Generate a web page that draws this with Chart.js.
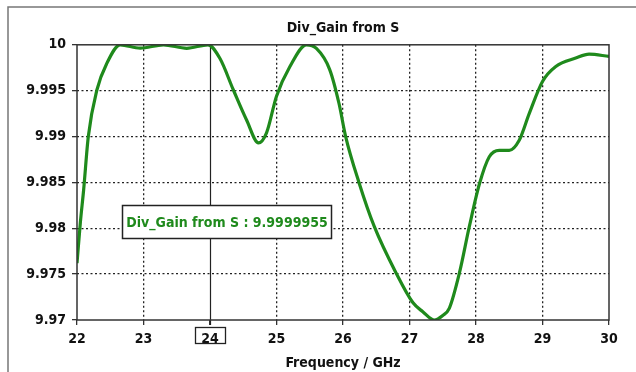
<!DOCTYPE html>
<html><head><meta charset="utf-8">
<script src="https://cdn.jsdelivr.net/npm/chart.js@4/dist/chart.umd.min.js"></script>
<style>html,body{margin:0;padding:0;background:#fff}#wrap{width:636px;height:372px}</style>
</head><body><div id="wrap"><canvas id="c" width="636" height="372"></canvas></div>
<script>
const freqGHz = [22, 22.05, 22.1, 22.17, 22.3, 22.45, 22.65, 22.95, 23.3, 23.65, 23.97, 24.15, 24.35, 24.55, 24.73, 24.85, 25.0, 25.2, 25.45, 25.6, 25.8, 25.94, 26.04, 26.24, 26.47, 26.8, 27.05, 27.2, 27.37, 27.5, 27.6, 27.75, 27.9, 28.05, 28.2, 28.35, 28.5, 28.65, 28.8, 29.0, 29.2, 29.5, 29.7, 30.0];
const divGain = [9.9762, 9.9806, 9.9842, 9.9900, 9.9951, 9.9980, 10.0000, 9.99964, 10.0000, 9.99962, 10.0000, 9.9985, 9.9951, 9.9918, 9.9893, 9.9904, 9.9944, 9.9976, 10.0000, 9.9996, 9.9973, 9.9936, 9.9900, 9.9850, 9.9802, 9.9751, 9.9719, 9.9709, 9.9700, 9.9705, 9.9713, 9.9751, 9.9802, 9.9848, 9.9878, 9.9885, 9.9885, 9.9896, 9.9925, 9.9960, 9.99763, 9.99855, 9.99898, 9.99873];
const xTickLabels = ['22','23','24','25','26','27','28','29','30'];
const yTickLabels = ['9.97','9.975','9.98','9.985','9.99','9.995','10'];
const seriesName = 'Div_Gain from S';
const markerX = 24;
const markerValue = '9.9999955';

const FONT = "'DejaVu Sans Condensed', 'Liberation Sans', sans-serif";
const GREEN = '#1f8a1c';

const decor = {
  id: 'decor',
  beforeDraw(chart) {
    const ctx = chart.ctx;
    ctx.save();
    ctx.fillStyle = '#fff';
    ctx.fillRect(0, 0, chart.width, chart.height);
    ctx.strokeStyle = '#777';
    ctx.lineWidth = 1.5;
    ctx.beginPath();
    ctx.moveTo(8, chart.height);
    ctx.lineTo(8, 7);
    ctx.lineTo(chart.width, 7);
    ctx.stroke();
    ctx.restore();
  },
  beforeDatasetsDraw(chart) {
    const ctx = chart.ctx, a = chart.chartArea, xs = chart.scales.x;
    const px = Math.round(xs.getPixelForValue(markerX)) + 0.5;
    ctx.save();
    ctx.strokeStyle = '#222';
    ctx.lineWidth = 1.2;
    ctx.beginPath();
    ctx.moveTo(px, a.top);
    ctx.lineTo(px, a.bottom + 5);
    ctx.stroke();
    ctx.restore();
  },
  afterDraw(chart) {
    const ctx = chart.ctx, a = chart.chartArea, xs = chart.scales.x;
    ctx.save();
    ctx.strokeStyle = '#333';
    ctx.lineWidth = 1.5;
    ctx.strokeRect(a.left, a.top, a.right - a.left, a.bottom - a.top);
    const px = xs.getPixelForValue(markerX);
    ctx.lineWidth = 1.3;
    ctx.strokeStyle = '#222';
    ctx.strokeRect(Math.round(px - 15) + 0.5, a.bottom + 7.5, 30, 16);
    const bx = 122.5, by = 205.5, bw = 209, bh = 33;
    ctx.fillStyle = '#fff';
    ctx.fillRect(bx, by, bw, bh);
    ctx.strokeStyle = '#222';
    ctx.lineWidth = 1.5;
    ctx.strokeRect(bx, by, bw, bh);
    ctx.fillStyle = GREEN;
    ctx.font = 'bold 14px ' + FONT;
    ctx.textAlign = 'center';
    ctx.textBaseline = 'middle';
    ctx.fillText(seriesName + ' : ' + markerValue, bx + bw / 2, by + bh / 2 + 1);
    ctx.restore();
  }
};

new Chart(document.getElementById('c'), {
  type: 'scatter',
  data: {
    datasets: [{
      label: seriesName,
      data: freqGHz.map((f, i) => ({x: f, y: divGain[i]})),
      showLine: true,
      borderColor: GREEN,
      borderWidth: 3.2,
      pointRadius: 0,
      cubicInterpolationMode: 'monotone',
      fill: false
    }]
  },
  options: {
    responsive: false,
    animation: false,
    devicePixelRatio: 1,
    layout: {padding: {left: 0, right: 27, top: 0, bottom: 0}},
    plugins: {
      legend: {display: false},
      tooltip: {enabled: false},
      title: {
        display: true,
        fullSize: false,
        text: seriesName,
        color: '#111',
        font: {family: FONT, size: 14, weight: 'bold', lineHeight: 1.2},
        padding: {top: 20, bottom: 8}
      }
    },
    scales: {
      x: {
        type: 'linear', min: 22, max: 30,
        ticks: {
          stepSize: 1, color: '#111', padding: 6,
          font: {family: FONT, size: 14, weight: 'bold'},
          callback: (v) => xTickLabels[Math.round(v - 22)] ?? ''
        },
        grid: {
          color: (c) => (c.tick && (c.tick.value === 22 || c.tick.value === 30 || c.tick.value === markerX)) ? 'rgba(0,0,0,0)' : '#222',
          lineWidth: 1.3, tickLength: 5, tickColor: '#333', drawTicks: true
        },
        border: {display: false, dash: [2, 2.5]},
        title: {display: true, text: 'Frequency / GHz', color: '#111', font: {family: FONT, size: 14, weight: 'bold'}, padding: {top: 0, bottom: 0}},
        afterFit: (s) => { s.height = 52; }
      },
      y: {
        min: 9.97, max: 10,
        ticks: {
          stepSize: 0.005, color: '#111', padding: 6,
          font: {family: FONT, size: 14, weight: 'bold'},
          callback: (v) => yTickLabels[Math.round((v - 9.97) / 0.005)] ?? ''
        },
        grid: {
          color: (c) => (c.tick && (Math.abs(c.tick.value - 9.97) < 1e-6 || Math.abs(c.tick.value - 10) < 1e-6)) ? 'rgba(0,0,0,0)' : '#222',
          lineWidth: 1.3, tickLength: 5, tickColor: '#333'
        },
        border: {display: false, dash: [2, 2.5]},
        afterFit: (s) => { s.width = 77; }
      }
    }
  },
  plugins: [decor]
});
</script>
</body></html>
